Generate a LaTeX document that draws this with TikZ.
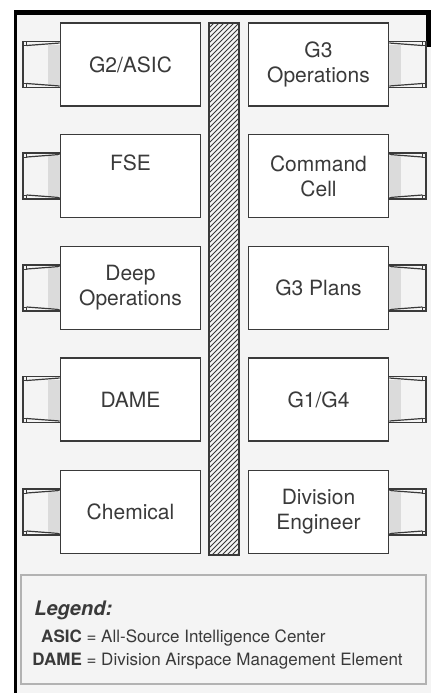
\documentclass[tikz,border=0pt]{standalone}
\usepackage{fontspec}
\setmainfont{TeX Gyre Heros}
\usetikzlibrary{positioning}
\definecolor{ink}{HTML}{3A3A3A}
\definecolor{paper}{HTML}{F4F4F4}
\newcommand{\lblfont}{\fontsize{10.5}{12.5}\selectfont}

\tikzset{
 plug/.pic={
  \fill[gray!28] (0,-20) rectangle (12,20);
  \draw[ink,line width=0.9pt] (0,-23) -- (37,-23) -- (37,23) -- (0,23);
  \draw[ink,line width=0.5pt] (33,-23) rectangle (37,-19) (33,19) rectangle (37,23);
  \draw[ink,line width=0.6pt] (33,-19) -- (0,-21.5) (33,19) -- (0,21.5);
 }
}

\begin{document}
\begin{tikzpicture}[x=0.5pt,y=-0.5pt,
 unit/.style={draw=ink,fill=white,line width=0.8pt,minimum width=70pt,minimum height=41.5pt,
  inner sep=0pt,align=center,text=ink,font=\lblfont},
 txt/.style={text=ink,font=\lblfont,inner sep=0pt}]
\useasboundingbox (0,0) rectangle (431,693);
\fill[paper] (17,15) rectangle (431,693);
% page edge
\fill[black] (14,10) rectangle (431,15);
\fill[black] (14,10) rectangle (17,693);
\fill[black] (426,10) rectangle (431,47);

% hatched wall
\node[draw=ink,line width=0.6pt,minimum width=15pt,minimum height=266pt,inner sep=0pt] (wall) at (224,289) {};
\begin{scope}
\clip (209,23) rectangle (239,555);
\foreach \k in {0,5,...,570}
  \draw[ink,line width=0.5pt] (209,\k+23) -- (239,\k-7);
\end{scope}
\draw[ink,line width=0.6pt] (209,23) rectangle (239,555);

% left column
\node[unit] (asic) at (130.5,64.5) {G2/ASIC};
\node[unit] (fse) at (130.5,176) {};
\node[txt] (fsetxt) at (130.5,163) {FSE};
\node[unit] (deep) at (130.5,288) {Deep\\Operations};
\node[unit] (dame) at (130.5,399.5) {DAME};
\node[unit] (chem) at (130.5,512) {Chemical};

% right column
\node[unit] (gops) at (318.5,64.5) {G3\\Operations};
\node[unit] (cmd) at (318.5,176) {Command\\Cell};
\node[unit] (plans) at (318.5,288) {G3 Plans};
\node[unit] (g1g4) at (318.5,399.5) {G1/G4};
\node[unit] (engr) at (318.5,512) {Division\\Engineer};

% plugs
\foreach \n in {asic,fse,deep,dame,chem}
  \path (\n.west) pic[xscale=-1] {plug};
\foreach \n in {gops,cmd,plans,g1g4,engr}
  \path (\n.east) pic {plug};

% legend
\node[draw=gray!60,line width=0.6pt,fill=paper,minimum width=202.5pt,minimum height=54.5pt,inner sep=0pt] (lgd) at (223.5,629.5) {};
\node[txt,anchor=west,font=\fontsize{10}{12}\selectfont\bfseries\itshape] (lgdhead) at (34,610) {Legend:};
\node[txt,anchor=north west,font=\fontsize{8.5}{11.5}\selectfont] (lgdbody) at (32,626)
 {\begin{tabular}{@{}r@{ = }l@{}}\textbf{ASIC} & All-Source Intelligence Center\\
  \textbf{DAME} & Division Airspace Management Element\end{tabular}};
\end{tikzpicture}
\end{document}
